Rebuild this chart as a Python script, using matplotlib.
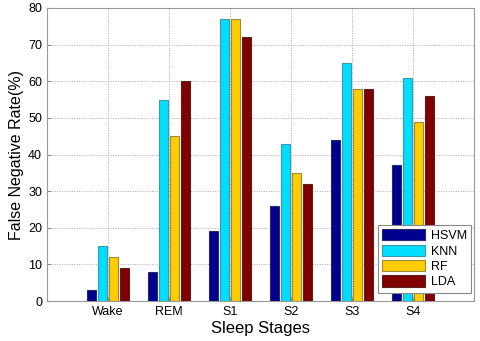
import numpy as np
import matplotlib
matplotlib.use("Agg")
import matplotlib.pyplot as plt

plt.rcParams['font.family'] = ['Liberation Sans', 'DejaVu Sans']

stages = ["Wake", "REM", "S1", "S2", "S3", "S4"]
hsvm = [3, 8, 19, 26, 44, 37]
knn = [15, 55, 77, 43, 65, 61]
rf = [12, 45, 77, 35, 58, 49]
lda = [9, 60, 72, 32, 58, 56]

series = [("HSVM", hsvm, "#00008F", "#2a2a6a"),
          ("KNN", knn, "#00DDFF", "#3a9aaa"),
          ("RF", rf, "#FFCC00", "#9a8a40"),
          ("LDA", lda, "#800000", "#5a2020")]

fig = plt.figure(figsize=(4.8, 3.41), dpi=100)
ax = fig.add_axes([47/480, 1 - 301/341, (474-47)/480, (301-8)/341])

x = np.arange(1, len(stages) + 1)
offsets = [-0.27, -0.09, 0.09, 0.27]
for (name, vals, fc, ec), off in zip(series, offsets):
    ax.bar(x + off, vals, width=0.145, color=fc, edgecolor=ec, linewidth=0.8,
           label=name, zorder=3)

ax.set_xlim(0, 7)
ax.set_ylim(0, 80)
ax.set_xticks(x)
ax.set_xticklabels(stages)
ax.set_yticks(range(0, 81, 10))
ax.tick_params(direction='in', labelsize=9, length=3, color='#888888')
ax.grid(True, linestyle=(0, (1, 1.5)), color='#aaaaaa', linewidth=0.7, zorder=0)
for s in ax.spines.values():
    s.set_color('#999999')

ax.set_xlabel("Sleep Stages", fontsize=12, labelpad=2)
ax.set_ylabel("False Negative Rate(%)", fontsize=11.5, labelpad=3)

leg = ax.legend(loc='lower right', bbox_to_anchor=(1.0, 0.02), fontsize=9,
                handlelength=3.4, handleheight=1.0, labelspacing=0.2,
                fancybox=False, framealpha=1, edgecolor='#888888',
                borderpad=0.35, handletextpad=0.5, borderaxespad=0.2)
leg.get_frame().set_linewidth(0.8)

fig.savefig("out.png", dpi=100)
